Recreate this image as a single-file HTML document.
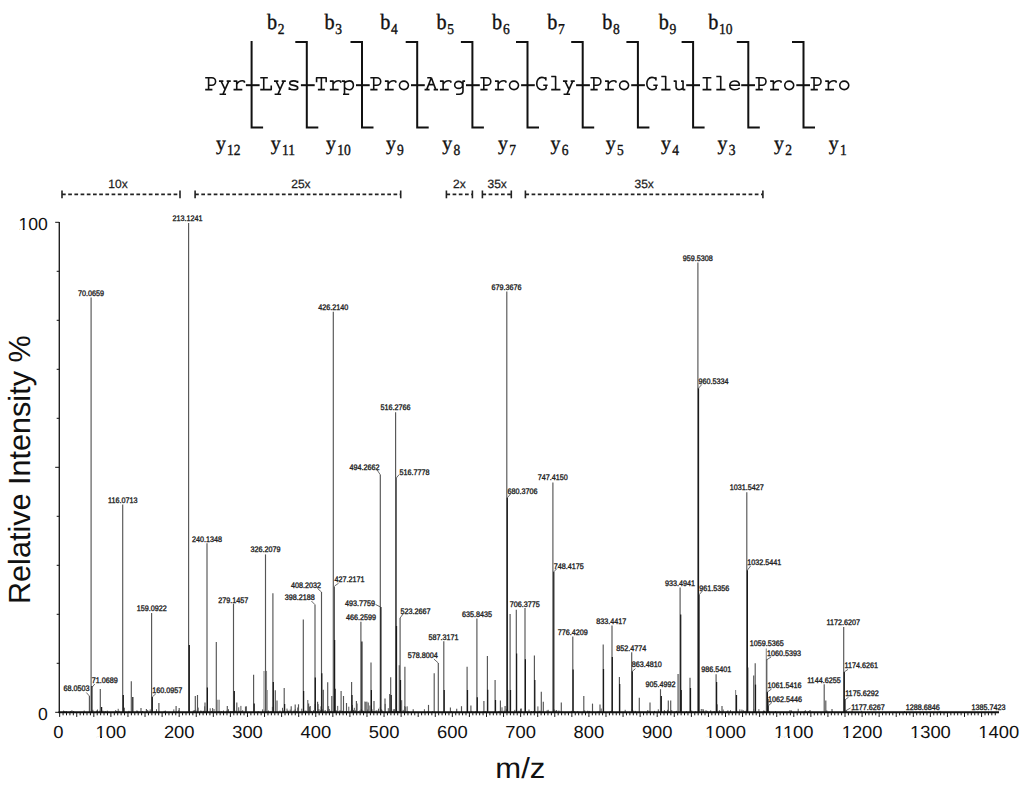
<!DOCTYPE html>
<html><head><meta charset="utf-8"><style>
html,body{margin:0;padding:0;background:#fff;width:1024px;height:791px;overflow:hidden}
body{position:relative;font-family:"Liberation Sans",sans-serif}
</style></head><body>
<svg width="1024" height="791" viewBox="0 0 1024 791" style="position:absolute;left:0;top:0" text-rendering="geometricPrecision">
<g stroke="#444" stroke-width="0.9" shape-rendering="geometricPrecision">
<line x1="63.6" y1="712.3" x2="63.6" y2="710.5"/>
<line x1="64.7" y1="712.3" x2="64.7" y2="711.2"/>
<line x1="66.2" y1="712.3" x2="66.2" y2="711.0"/>
<line x1="70.5" y1="712.3" x2="70.5" y2="711.1"/>
<line x1="71.9" y1="712.3" x2="71.9" y2="710.3"/>
<line x1="73.7" y1="712.3" x2="73.7" y2="711.0"/>
<line x1="84.2" y1="712.3" x2="84.2" y2="710.5"/>
<line x1="92.9" y1="712.3" x2="92.9" y2="709.8"/>
<line x1="96.7" y1="712.3" x2="96.7" y2="710.6"/>
<line x1="97.5" y1="712.3" x2="97.5" y2="709.5"/>
<line x1="99.9" y1="712.3" x2="99.9" y2="710.6"/>
<line x1="102.9" y1="712.3" x2="102.9" y2="710.7"/>
<line x1="105.2" y1="712.3" x2="105.2" y2="711.0"/>
<line x1="107.3" y1="712.3" x2="107.3" y2="710.6"/>
<line x1="115.7" y1="712.3" x2="115.7" y2="710.1"/>
<line x1="116.5" y1="712.3" x2="116.5" y2="711.1"/>
<line x1="117.2" y1="712.3" x2="117.2" y2="711.1"/>
<line x1="118.2" y1="712.3" x2="118.2" y2="708.8"/>
<line x1="119.1" y1="712.3" x2="119.1" y2="710.8"/>
<line x1="122.6" y1="712.3" x2="122.6" y2="711.2"/>
<line x1="124.4" y1="712.3" x2="124.4" y2="707.7"/>
<line x1="128.9" y1="712.3" x2="128.9" y2="710.8"/>
<line x1="136.9" y1="712.3" x2="136.9" y2="710.4"/>
<line x1="137.7" y1="712.3" x2="137.7" y2="710.9"/>
<line x1="142.7" y1="712.3" x2="142.7" y2="711.0"/>
<line x1="147.7" y1="712.3" x2="147.7" y2="710.0"/>
<line x1="150.2" y1="712.3" x2="150.2" y2="709.4"/>
<line x1="155.1" y1="712.3" x2="155.1" y2="711.1"/>
<line x1="156.5" y1="712.3" x2="156.5" y2="709.2"/>
<line x1="159.0" y1="712.3" x2="159.0" y2="711.3"/>
<line x1="164.2" y1="712.3" x2="164.2" y2="710.9"/>
<line x1="165.4" y1="712.3" x2="165.4" y2="710.6"/>
<line x1="173.8" y1="712.3" x2="173.8" y2="709.4"/>
<line x1="178.7" y1="712.3" x2="178.7" y2="710.3"/>
<line x1="193.3" y1="712.3" x2="193.3" y2="710.6"/>
<line x1="194.3" y1="712.3" x2="194.3" y2="710.0"/>
<line x1="195.8" y1="712.3" x2="195.8" y2="709.8"/>
<line x1="198.2" y1="712.3" x2="198.2" y2="707.6"/>
<line x1="200.7" y1="712.3" x2="200.7" y2="710.6"/>
<line x1="201.8" y1="712.3" x2="201.8" y2="710.8"/>
<line x1="203.6" y1="712.3" x2="203.6" y2="710.8"/>
<line x1="204.7" y1="712.3" x2="204.7" y2="706.3"/>
<line x1="206.3" y1="712.3" x2="206.3" y2="710.9"/>
<line x1="207.7" y1="712.3" x2="207.7" y2="711.1"/>
<line x1="210.2" y1="712.3" x2="210.2" y2="708.3"/>
<line x1="211.5" y1="712.3" x2="211.5" y2="711.2"/>
<line x1="212.6" y1="712.3" x2="212.6" y2="708.0"/>
<line x1="214.0" y1="712.3" x2="214.0" y2="709.0"/>
<line x1="218.0" y1="712.3" x2="218.0" y2="711.1"/>
<line x1="218.9" y1="712.3" x2="218.9" y2="711.1"/>
<line x1="219.8" y1="712.3" x2="219.8" y2="710.9"/>
<line x1="221.6" y1="712.3" x2="221.6" y2="711.3"/>
<line x1="223.5" y1="712.3" x2="223.5" y2="710.5"/>
<line x1="226.9" y1="712.3" x2="226.9" y2="710.5"/>
<line x1="228.5" y1="712.3" x2="228.5" y2="709.2"/>
<line x1="230.7" y1="712.3" x2="230.7" y2="711.1"/>
<line x1="232.1" y1="712.3" x2="232.1" y2="711.1"/>
<line x1="234.9" y1="712.3" x2="234.9" y2="711.0"/>
<line x1="236.0" y1="712.3" x2="236.0" y2="710.6"/>
<line x1="238.7" y1="712.3" x2="238.7" y2="707.3"/>
<line x1="239.8" y1="712.3" x2="239.8" y2="710.7"/>
<line x1="240.9" y1="712.3" x2="240.9" y2="705.9"/>
<line x1="241.7" y1="712.3" x2="241.7" y2="711.2"/>
<line x1="242.7" y1="712.3" x2="242.7" y2="710.2"/>
<line x1="246.4" y1="712.3" x2="246.4" y2="706.3"/>
<line x1="258.2" y1="712.3" x2="258.2" y2="711.1"/>
<line x1="262.6" y1="712.3" x2="262.6" y2="709.4"/>
<line x1="265.1" y1="712.3" x2="265.1" y2="709.7"/>
<line x1="265.9" y1="712.3" x2="265.9" y2="709.7"/>
<line x1="268.4" y1="712.3" x2="268.4" y2="710.5"/>
<line x1="271.0" y1="712.3" x2="271.0" y2="711.1"/>
<line x1="272.4" y1="712.3" x2="272.4" y2="706.9"/>
<line x1="280.0" y1="712.3" x2="280.0" y2="710.6"/>
<line x1="282.5" y1="712.3" x2="282.5" y2="707.8"/>
<line x1="283.7" y1="712.3" x2="283.7" y2="710.4"/>
<line x1="287.0" y1="712.3" x2="287.0" y2="708.6"/>
<line x1="287.7" y1="712.3" x2="287.7" y2="710.5"/>
<line x1="288.7" y1="712.3" x2="288.7" y2="710.8"/>
<line x1="290.2" y1="712.3" x2="290.2" y2="709.6"/>
<line x1="293.3" y1="712.3" x2="293.3" y2="710.7"/>
<line x1="294.5" y1="712.3" x2="294.5" y2="710.6"/>
<line x1="295.3" y1="712.3" x2="295.3" y2="709.1"/>
<line x1="296.8" y1="712.3" x2="296.8" y2="710.9"/>
<line x1="297.7" y1="712.3" x2="297.7" y2="707.5"/>
<line x1="301.8" y1="712.3" x2="301.8" y2="708.7"/>
<line x1="303.2" y1="712.3" x2="303.2" y2="711.2"/>
<line x1="304.0" y1="712.3" x2="304.0" y2="710.6"/>
<line x1="305.6" y1="712.3" x2="305.6" y2="710.6"/>
<line x1="306.6" y1="712.3" x2="306.6" y2="710.8"/>
<line x1="307.8" y1="712.3" x2="307.8" y2="700.0"/>
<line x1="308.6" y1="712.3" x2="308.6" y2="710.5"/>
<line x1="309.5" y1="712.3" x2="309.5" y2="706.9"/>
<line x1="310.6" y1="712.3" x2="310.6" y2="710.4"/>
<line x1="311.4" y1="712.3" x2="311.4" y2="711.0"/>
<line x1="313.5" y1="712.3" x2="313.5" y2="710.3"/>
<line x1="315.1" y1="712.3" x2="315.1" y2="704.0"/>
<line x1="316.6" y1="712.3" x2="316.6" y2="711.3"/>
<line x1="318.1" y1="712.3" x2="318.1" y2="704.1"/>
<line x1="318.9" y1="712.3" x2="318.9" y2="709.0"/>
<line x1="320.3" y1="712.3" x2="320.3" y2="710.1"/>
<line x1="321.0" y1="712.3" x2="321.0" y2="706.3"/>
<line x1="322.0" y1="712.3" x2="322.0" y2="709.3"/>
<line x1="322.8" y1="712.3" x2="322.8" y2="709.6"/>
<line x1="323.7" y1="712.3" x2="323.7" y2="710.6"/>
<line x1="325.2" y1="712.3" x2="325.2" y2="710.0"/>
<line x1="327.5" y1="712.3" x2="327.5" y2="709.9"/>
<line x1="328.6" y1="712.3" x2="328.6" y2="706.1"/>
<line x1="329.3" y1="712.3" x2="329.3" y2="709.0"/>
<line x1="330.7" y1="712.3" x2="330.7" y2="710.8"/>
<line x1="331.7" y1="712.3" x2="331.7" y2="710.8"/>
<line x1="333.8" y1="712.3" x2="333.8" y2="710.2"/>
<line x1="335.4" y1="712.3" x2="335.4" y2="710.8"/>
<line x1="336.2" y1="712.3" x2="336.2" y2="710.3"/>
<line x1="337.7" y1="712.3" x2="337.7" y2="705.9"/>
<line x1="339.9" y1="712.3" x2="339.9" y2="710.3"/>
<line x1="340.9" y1="712.3" x2="340.9" y2="710.6"/>
<line x1="342.5" y1="712.3" x2="342.5" y2="710.8"/>
<line x1="343.9" y1="712.3" x2="343.9" y2="711.2"/>
<line x1="345.8" y1="712.3" x2="345.8" y2="711.2"/>
<line x1="347.3" y1="712.3" x2="347.3" y2="711.2"/>
<line x1="348.8" y1="712.3" x2="348.8" y2="706.7"/>
<line x1="351.0" y1="712.3" x2="351.0" y2="710.5"/>
<line x1="351.7" y1="712.3" x2="351.7" y2="709.3"/>
<line x1="352.4" y1="712.3" x2="352.4" y2="705.0"/>
<line x1="353.5" y1="712.3" x2="353.5" y2="709.9"/>
<line x1="354.3" y1="712.3" x2="354.3" y2="707.8"/>
<line x1="355.6" y1="712.3" x2="355.6" y2="710.4"/>
<line x1="356.4" y1="712.3" x2="356.4" y2="710.7"/>
<line x1="357.1" y1="712.3" x2="357.1" y2="703.5"/>
<line x1="358.7" y1="712.3" x2="358.7" y2="711.1"/>
<line x1="360.0" y1="712.3" x2="360.0" y2="710.2"/>
<line x1="361.3" y1="712.3" x2="361.3" y2="709.1"/>
<line x1="362.8" y1="712.3" x2="362.8" y2="710.4"/>
<line x1="363.7" y1="712.3" x2="363.7" y2="711.0"/>
<line x1="364.9" y1="712.3" x2="364.9" y2="701.5"/>
<line x1="365.8" y1="712.3" x2="365.8" y2="701.9"/>
<line x1="366.9" y1="712.3" x2="366.9" y2="701.6"/>
<line x1="367.7" y1="712.3" x2="367.7" y2="709.5"/>
<line x1="369.9" y1="712.3" x2="369.9" y2="705.5"/>
<line x1="371.1" y1="712.3" x2="371.1" y2="710.4"/>
<line x1="372.0" y1="712.3" x2="372.0" y2="709.2"/>
<line x1="372.7" y1="712.3" x2="372.7" y2="710.9"/>
<line x1="373.6" y1="712.3" x2="373.6" y2="711.2"/>
<line x1="374.6" y1="712.3" x2="374.6" y2="711.1"/>
<line x1="375.9" y1="712.3" x2="375.9" y2="710.6"/>
<line x1="376.9" y1="712.3" x2="376.9" y2="710.2"/>
<line x1="378.5" y1="712.3" x2="378.5" y2="708.7"/>
<line x1="380.3" y1="712.3" x2="380.3" y2="707.0"/>
<line x1="381.2" y1="712.3" x2="381.2" y2="709.3"/>
<line x1="381.9" y1="712.3" x2="381.9" y2="709.9"/>
<line x1="382.9" y1="712.3" x2="382.9" y2="711.1"/>
<line x1="385.2" y1="712.3" x2="385.2" y2="703.9"/>
<line x1="388.3" y1="712.3" x2="388.3" y2="708.2"/>
<line x1="389.3" y1="712.3" x2="389.3" y2="710.9"/>
<line x1="390.4" y1="712.3" x2="390.4" y2="711.0"/>
<line x1="392.5" y1="712.3" x2="392.5" y2="711.2"/>
<line x1="393.3" y1="712.3" x2="393.3" y2="709.3"/>
<line x1="394.4" y1="712.3" x2="394.4" y2="709.1"/>
<line x1="395.4" y1="712.3" x2="395.4" y2="710.0"/>
<line x1="396.8" y1="712.3" x2="396.8" y2="710.9"/>
<line x1="397.6" y1="712.3" x2="397.6" y2="711.1"/>
<line x1="398.8" y1="712.3" x2="398.8" y2="711.1"/>
<line x1="400.2" y1="712.3" x2="400.2" y2="709.9"/>
<line x1="401.7" y1="712.3" x2="401.7" y2="700.2"/>
<line x1="403.2" y1="712.3" x2="403.2" y2="709.9"/>
<line x1="404.7" y1="712.3" x2="404.7" y2="706.0"/>
<line x1="405.7" y1="712.3" x2="405.7" y2="706.8"/>
<line x1="407.2" y1="712.3" x2="407.2" y2="706.3"/>
<line x1="408.1" y1="712.3" x2="408.1" y2="711.2"/>
<line x1="424.4" y1="712.3" x2="424.4" y2="709.2"/>
<line x1="427.9" y1="712.3" x2="427.9" y2="711.3"/>
<line x1="432.4" y1="712.3" x2="432.4" y2="711.3"/>
<line x1="438.4" y1="712.3" x2="438.4" y2="711.2"/>
<line x1="451.4" y1="712.3" x2="451.4" y2="711.0"/>
<line x1="461.5" y1="712.3" x2="461.5" y2="711.0"/>
<line x1="471.7" y1="712.3" x2="471.7" y2="710.9"/>
<line x1="476.0" y1="712.3" x2="476.0" y2="711.0"/>
<line x1="483.3" y1="712.3" x2="483.3" y2="711.0"/>
<line x1="484.9" y1="712.3" x2="484.9" y2="711.2"/>
<line x1="485.9" y1="712.3" x2="485.9" y2="711.3"/>
<line x1="494.9" y1="712.3" x2="494.9" y2="711.2"/>
<line x1="498.9" y1="712.3" x2="498.9" y2="711.2"/>
<line x1="500.2" y1="712.3" x2="500.2" y2="710.8"/>
<line x1="501.0" y1="712.3" x2="501.0" y2="710.9"/>
<line x1="502.0" y1="712.3" x2="502.0" y2="707.3"/>
<line x1="504.2" y1="712.3" x2="504.2" y2="710.6"/>
<line x1="506.4" y1="712.3" x2="506.4" y2="708.9"/>
<line x1="507.8" y1="712.3" x2="507.8" y2="711.3"/>
<line x1="514.8" y1="712.3" x2="514.8" y2="709.9"/>
<line x1="519.0" y1="712.3" x2="519.0" y2="710.7"/>
<line x1="520.5" y1="712.3" x2="520.5" y2="708.7"/>
<line x1="521.4" y1="712.3" x2="521.4" y2="708.5"/>
<line x1="526.9" y1="712.3" x2="526.9" y2="711.1"/>
<line x1="529.0" y1="712.3" x2="529.0" y2="709.5"/>
<line x1="531.4" y1="712.3" x2="531.4" y2="711.0"/>
<line x1="533.5" y1="712.3" x2="533.5" y2="711.0"/>
<line x1="534.7" y1="712.3" x2="534.7" y2="710.8"/>
<line x1="537.9" y1="712.3" x2="537.9" y2="706.4"/>
<line x1="539.2" y1="712.3" x2="539.2" y2="711.0"/>
<line x1="540.0" y1="712.3" x2="540.0" y2="710.7"/>
<line x1="547.1" y1="712.3" x2="547.1" y2="710.3"/>
<line x1="548.2" y1="712.3" x2="548.2" y2="709.8"/>
<line x1="554.1" y1="712.3" x2="554.1" y2="709.5"/>
<line x1="555.3" y1="712.3" x2="555.3" y2="710.6"/>
<line x1="556.6" y1="712.3" x2="556.6" y2="710.0"/>
<line x1="558.9" y1="712.3" x2="558.9" y2="710.5"/>
<line x1="571.4" y1="712.3" x2="571.4" y2="710.9"/>
<line x1="574.2" y1="712.3" x2="574.2" y2="711.0"/>
<line x1="577.7" y1="712.3" x2="577.7" y2="711.1"/>
<line x1="584.7" y1="712.3" x2="584.7" y2="710.3"/>
<line x1="587.7" y1="712.3" x2="587.7" y2="710.7"/>
<line x1="588.7" y1="712.3" x2="588.7" y2="711.3"/>
<line x1="589.7" y1="712.3" x2="589.7" y2="710.9"/>
<line x1="598.0" y1="712.3" x2="598.0" y2="711.3"/>
<line x1="599.3" y1="712.3" x2="599.3" y2="711.2"/>
<line x1="601.2" y1="712.3" x2="601.2" y2="708.5"/>
<line x1="610.3" y1="712.3" x2="610.3" y2="711.0"/>
<line x1="611.5" y1="712.3" x2="611.5" y2="710.5"/>
<line x1="619.5" y1="712.3" x2="619.5" y2="710.1"/>
<line x1="625.2" y1="712.3" x2="625.2" y2="709.8"/>
<line x1="631.9" y1="712.3" x2="631.9" y2="709.2"/>
<line x1="633.0" y1="712.3" x2="633.0" y2="710.5"/>
<line x1="635.3" y1="712.3" x2="635.3" y2="710.9"/>
<line x1="639.6" y1="712.3" x2="639.6" y2="711.3"/>
<line x1="647.8" y1="712.3" x2="647.8" y2="710.0"/>
<line x1="649.2" y1="712.3" x2="649.2" y2="711.1"/>
<line x1="654.5" y1="712.3" x2="654.5" y2="710.9"/>
<line x1="658.3" y1="712.3" x2="658.3" y2="709.3"/>
<line x1="664.4" y1="712.3" x2="664.4" y2="710.1"/>
<line x1="665.2" y1="712.3" x2="665.2" y2="711.3"/>
<line x1="667.6" y1="712.3" x2="667.6" y2="709.8"/>
<line x1="669.0" y1="712.3" x2="669.0" y2="711.2"/>
<line x1="671.7" y1="712.3" x2="671.7" y2="710.1"/>
<line x1="675.1" y1="712.3" x2="675.1" y2="711.3"/>
<line x1="676.5" y1="712.3" x2="676.5" y2="710.9"/>
<line x1="678.5" y1="712.3" x2="678.5" y2="710.8"/>
<line x1="686.5" y1="712.3" x2="686.5" y2="711.2"/>
<line x1="691.7" y1="712.3" x2="691.7" y2="710.6"/>
<line x1="695.4" y1="712.3" x2="695.4" y2="711.3"/>
<line x1="701.3" y1="712.3" x2="701.3" y2="709.0"/>
<line x1="703.6" y1="712.3" x2="703.6" y2="710.3"/>
<line x1="706.0" y1="712.3" x2="706.0" y2="710.2"/>
<line x1="707.2" y1="712.3" x2="707.2" y2="710.9"/>
<line x1="710.7" y1="712.3" x2="710.7" y2="710.3"/>
<line x1="714.2" y1="712.3" x2="714.2" y2="711.1"/>
<line x1="717.2" y1="712.3" x2="717.2" y2="704.3"/>
<line x1="719.4" y1="712.3" x2="719.4" y2="710.2"/>
<line x1="720.5" y1="712.3" x2="720.5" y2="711.3"/>
<line x1="723.2" y1="712.3" x2="723.2" y2="709.5"/>
<line x1="727.1" y1="712.3" x2="727.1" y2="711.0"/>
<line x1="727.9" y1="712.3" x2="727.9" y2="710.3"/>
<line x1="730.5" y1="712.3" x2="730.5" y2="710.2"/>
<line x1="736.0" y1="712.3" x2="736.0" y2="707.3"/>
<line x1="736.9" y1="712.3" x2="736.9" y2="710.9"/>
<line x1="739.8" y1="712.3" x2="739.8" y2="709.4"/>
<line x1="741.9" y1="712.3" x2="741.9" y2="709.6"/>
<line x1="743.2" y1="712.3" x2="743.2" y2="710.2"/>
<line x1="744.0" y1="712.3" x2="744.0" y2="710.9"/>
<line x1="745.1" y1="712.3" x2="745.1" y2="711.0"/>
<line x1="746.4" y1="712.3" x2="746.4" y2="709.8"/>
<line x1="753.7" y1="712.3" x2="753.7" y2="709.2"/>
<line x1="755.0" y1="712.3" x2="755.0" y2="711.0"/>
<line x1="758.9" y1="712.3" x2="758.9" y2="709.1"/>
<line x1="763.6" y1="712.3" x2="763.6" y2="710.5"/>
<line x1="764.5" y1="712.3" x2="764.5" y2="710.8"/>
<line x1="766.9" y1="712.3" x2="766.9" y2="708.6"/>
<line x1="768.3" y1="712.3" x2="768.3" y2="698.8"/>
<line x1="769.3" y1="712.3" x2="769.3" y2="711.3"/>
<line x1="775.5" y1="712.3" x2="775.5" y2="711.2"/>
<line x1="791.5" y1="712.3" x2="791.5" y2="710.4"/>
<line x1="798.2" y1="712.3" x2="798.2" y2="708.8"/>
<line x1="804.4" y1="712.3" x2="804.4" y2="711.2"/>
<line x1="805.3" y1="712.3" x2="805.3" y2="710.2"/>
<line x1="808.6" y1="712.3" x2="808.6" y2="711.1"/>
<line x1="826.8" y1="712.3" x2="826.8" y2="710.4"/>
<line x1="832.4" y1="712.3" x2="832.4" y2="711.1"/>
<line x1="852.1" y1="712.3" x2="852.1" y2="710.4"/>
<line x1="861.6" y1="712.3" x2="861.6" y2="710.8"/>
<line x1="904.5" y1="712.3" x2="904.5" y2="711.2"/>
<line x1="939.9" y1="712.3" x2="939.9" y2="710.9"/>
</g>
<g stroke="#888" stroke-width="1.1">
<line x1="217.8" y1="712.3" x2="217.8" y2="699.8"/>
<line x1="219.2" y1="712.3" x2="219.2" y2="699.8"/>
<line x1="264" y1="712.3" x2="264" y2="670.9"/>
<line x1="266.5" y1="712.3" x2="266.5" y2="670.9"/>
<line x1="267.2" y1="712.3" x2="267.2" y2="690"/>
<line x1="677.8" y1="712.3" x2="677.8" y2="673.9"/>
<line x1="678.6" y1="712.3" x2="678.6" y2="673.9"/>
<line x1="735.6" y1="712.3" x2="735.6" y2="690"/>
<line x1="766.3" y1="712.3" x2="766.3" y2="648.4"/>
</g>
<g stroke="#555" stroke-width="1.15">
<line x1="89.4" y1="712.3" x2="89.4" y2="696"/>
<line x1="91.1" y1="712.3" x2="91.1" y2="297.4"/>
<line x1="100.3" y1="712.3" x2="100.3" y2="689"/>
<line x1="122.7" y1="712.3" x2="122.7" y2="504.4"/>
<line x1="131.3" y1="712.3" x2="131.3" y2="681.3"/>
<line x1="141" y1="712.3" x2="141" y2="708"/>
<line x1="146.4" y1="712.3" x2="146.4" y2="709"/>
<line x1="151.6" y1="712.3" x2="151.6" y2="613"/>
<line x1="158.9" y1="712.3" x2="158.9" y2="703"/>
<line x1="176.1" y1="712.3" x2="176.1" y2="706"/>
<line x1="179.2" y1="712.3" x2="179.2" y2="708"/>
<line x1="188.6" y1="712.3" x2="188.6" y2="223"/>
<line x1="195.3" y1="712.3" x2="195.3" y2="696"/>
<line x1="197.5" y1="712.3" x2="197.5" y2="695"/>
<line x1="205" y1="712.3" x2="205" y2="702.4"/>
<line x1="207" y1="712.3" x2="207" y2="543.2"/>
<line x1="216.3" y1="712.3" x2="216.3" y2="642"/>
<line x1="227.3" y1="712.3" x2="227.3" y2="706"/>
<line x1="233.5" y1="712.3" x2="233.5" y2="603.7"/>
<line x1="236.8" y1="712.3" x2="236.8" y2="702.4"/>
<line x1="245.5" y1="712.3" x2="245.5" y2="706.5"/>
<line x1="253.6" y1="712.3" x2="253.6" y2="674.7"/>
<line x1="265.5" y1="712.3" x2="265.5" y2="554.4"/>
<line x1="272.9" y1="712.3" x2="272.9" y2="593.2"/>
<line x1="275.3" y1="712.3" x2="275.3" y2="690.3"/>
<line x1="277" y1="712.3" x2="277" y2="700.5"/>
<line x1="284.2" y1="712.3" x2="284.2" y2="688.1"/>
<line x1="291.2" y1="712.3" x2="291.2" y2="706.2"/>
<line x1="295.2" y1="712.3" x2="295.2" y2="704.6"/>
<line x1="298.5" y1="712.3" x2="298.5" y2="704.3"/>
<line x1="303.3" y1="712.3" x2="303.3" y2="619.5"/>
<line x1="308.6" y1="712.3" x2="308.6" y2="703.4"/>
<line x1="310.2" y1="712.3" x2="310.2" y2="706"/>
<line x1="315" y1="712.3" x2="315" y2="604.7"/>
<line x1="317.6" y1="712.3" x2="317.6" y2="701.7"/>
<line x1="321.5" y1="712.3" x2="321.5" y2="592"/>
<line x1="323.3" y1="712.3" x2="323.3" y2="689.7"/>
<line x1="327.7" y1="712.3" x2="327.7" y2="682.3"/>
<line x1="331.8" y1="712.3" x2="331.8" y2="696"/>
<line x1="333.3" y1="712.3" x2="333.3" y2="311.8"/>
<line x1="334.4" y1="712.3" x2="334.4" y2="586.6"/>
<line x1="341.1" y1="712.3" x2="341.1" y2="691"/>
<line x1="343.5" y1="712.3" x2="343.5" y2="696"/>
<line x1="346.5" y1="712.3" x2="346.5" y2="703"/>
<line x1="351.6" y1="712.3" x2="351.6" y2="682"/>
<line x1="356.4" y1="712.3" x2="356.4" y2="701"/>
<line x1="360.9" y1="712.3" x2="360.9" y2="621.8"/>
<line x1="368.2" y1="712.3" x2="368.2" y2="702.4"/>
<line x1="371" y1="712.3" x2="371" y2="662.4"/>
<line x1="374" y1="712.3" x2="374" y2="701"/>
<line x1="380.3" y1="712.3" x2="380.3" y2="474.8"/>
<line x1="385" y1="712.3" x2="385" y2="698.6"/>
<line x1="389.7" y1="712.3" x2="389.7" y2="694"/>
<line x1="390.7" y1="712.3" x2="390.7" y2="677.2"/>
<line x1="395.6" y1="712.3" x2="395.6" y2="412.2"/>
<line x1="396.3" y1="712.3" x2="396.3" y2="478"/>
<line x1="399.3" y1="712.3" x2="399.3" y2="665.3"/>
<line x1="400.1" y1="712.3" x2="400.1" y2="618"/>
<line x1="404.9" y1="712.3" x2="404.9" y2="666.8"/>
<line x1="413.2" y1="712.3" x2="413.2" y2="709.3"/>
<line x1="428.5" y1="712.3" x2="428.5" y2="704.9"/>
<line x1="434.2" y1="712.3" x2="434.2" y2="673.2"/>
<line x1="438.3" y1="712.3" x2="438.3" y2="663"/>
<line x1="443.8" y1="712.3" x2="443.8" y2="641.2"/>
<line x1="450.4" y1="712.3" x2="450.4" y2="707.4"/>
<line x1="456.7" y1="712.3" x2="456.7" y2="708.7"/>
<line x1="461.5" y1="712.3" x2="461.5" y2="706.2"/>
<line x1="467.1" y1="712.3" x2="467.1" y2="666.8"/>
<line x1="470.9" y1="712.3" x2="470.9" y2="705.5"/>
<line x1="476.9" y1="712.3" x2="476.9" y2="618.5"/>
<line x1="483.9" y1="712.3" x2="483.9" y2="701"/>
<line x1="487.4" y1="712.3" x2="487.4" y2="656"/>
<line x1="495.1" y1="712.3" x2="495.1" y2="680.1"/>
<line x1="500.4" y1="712.3" x2="500.4" y2="700.5"/>
<line x1="505.1" y1="712.3" x2="505.1" y2="706"/>
<line x1="506.8" y1="712.3" x2="506.8" y2="291.4"/>
<line x1="510.1" y1="712.3" x2="510.1" y2="614"/>
<line x1="516.3" y1="712.3" x2="516.3" y2="609.7"/>
<line x1="525" y1="712.3" x2="525" y2="608"/>
<line x1="534.4" y1="712.3" x2="534.4" y2="655.4"/>
<line x1="541.3" y1="712.3" x2="541.3" y2="691.8"/>
<line x1="543.3" y1="712.3" x2="543.3" y2="701.7"/>
<line x1="552.9" y1="712.3" x2="552.9" y2="482.4"/>
<line x1="561.3" y1="712.3" x2="561.3" y2="702.4"/>
<line x1="572.8" y1="712.3" x2="572.8" y2="636.6"/>
<line x1="583.8" y1="712.3" x2="583.8" y2="696"/>
<line x1="592.5" y1="712.3" x2="592.5" y2="703.6"/>
<line x1="600" y1="712.3" x2="600" y2="704.4"/>
<line x1="603.2" y1="712.3" x2="603.2" y2="644.4"/>
<line x1="612" y1="712.3" x2="612" y2="625.5"/>
<line x1="619.4" y1="712.3" x2="619.4" y2="677"/>
<line x1="631.7" y1="712.3" x2="631.7" y2="652.3"/>
<line x1="639.3" y1="712.3" x2="639.3" y2="697.8"/>
<line x1="650" y1="712.3" x2="650" y2="702.4"/>
<line x1="660.5" y1="712.3" x2="660.5" y2="689.2"/>
<line x1="668.3" y1="712.3" x2="668.3" y2="700.4"/>
<line x1="670.7" y1="712.3" x2="670.7" y2="700.4"/>
<line x1="680.1" y1="712.3" x2="680.1" y2="587.6"/>
<line x1="690" y1="712.3" x2="690" y2="677.8"/>
<line x1="697.9" y1="712.3" x2="697.9" y2="262.5"/>
<line x1="703" y1="712.3" x2="703" y2="709"/>
<line x1="716.1" y1="712.3" x2="716.1" y2="674.3"/>
<line x1="722" y1="712.3" x2="722" y2="706"/>
<line x1="746.8" y1="712.3" x2="746.8" y2="492.2"/>
<line x1="753.7" y1="712.3" x2="753.7" y2="675.5"/>
<line x1="755.2" y1="712.3" x2="755.2" y2="663.3"/>
<line x1="766.8" y1="712.3" x2="766.8" y2="659.2"/>
<line x1="790" y1="712.3" x2="790" y2="710"/>
<line x1="810" y1="712.3" x2="810" y2="710"/>
<line x1="824.2" y1="712.3" x2="824.2" y2="684.3"/>
<line x1="825.8" y1="712.3" x2="825.8" y2="700.5"/>
<line x1="832" y1="712.3" x2="832" y2="709"/>
<line x1="843.7" y1="712.3" x2="843.7" y2="627.1"/>
</g>
<g stroke="#1a1a1a" stroke-width="1.25">
<line x1="91.9" y1="712.3" x2="91.9" y2="686"/>
<line x1="101.6" y1="712.3" x2="101.6" y2="707"/>
<line x1="123.3" y1="712.3" x2="123.3" y2="695"/>
<line x1="132.8" y1="712.3" x2="132.8" y2="697"/>
<line x1="152.3" y1="712.3" x2="152.3" y2="697"/>
<line x1="189.3" y1="712.3" x2="189.3" y2="645"/>
<line x1="207.4" y1="712.3" x2="207.4" y2="687.5"/>
<line x1="234.3" y1="712.3" x2="234.3" y2="691"/>
<line x1="254.2" y1="712.3" x2="254.2" y2="703.6"/>
<line x1="273.3" y1="712.3" x2="273.3" y2="682"/>
<line x1="284.6" y1="712.3" x2="284.6" y2="704"/>
<line x1="303.6" y1="712.3" x2="303.6" y2="691"/>
<line x1="315.3" y1="712.3" x2="315.3" y2="677.6"/>
<line x1="321.8" y1="712.3" x2="321.8" y2="673.2"/>
<line x1="334.6" y1="712.3" x2="334.6" y2="640"/>
<line x1="335.1" y1="712.3" x2="335.1" y2="688.7"/>
<line x1="352" y1="712.3" x2="352" y2="695"/>
<line x1="361.9" y1="712.3" x2="361.9" y2="641.4"/>
<line x1="371.4" y1="712.3" x2="371.4" y2="690"/>
<line x1="380.9" y1="712.3" x2="380.9" y2="607"/>
<line x1="391.2" y1="712.3" x2="391.2" y2="695"/>
<line x1="396.5" y1="712.3" x2="396.5" y2="626"/>
<line x1="400.5" y1="712.3" x2="400.5" y2="680"/>
<line x1="444.2" y1="712.3" x2="444.2" y2="690"/>
<line x1="467.5" y1="712.3" x2="467.5" y2="690"/>
<line x1="477.3" y1="712.3" x2="477.3" y2="697.3"/>
<line x1="487.7" y1="712.3" x2="487.7" y2="689.7"/>
<line x1="495.5" y1="712.3" x2="495.5" y2="700"/>
<line x1="507.3" y1="712.3" x2="507.3" y2="497.8"/>
<line x1="507.6" y1="712.3" x2="507.6" y2="690"/>
<line x1="510.5" y1="712.3" x2="510.5" y2="690"/>
<line x1="516.6" y1="712.3" x2="516.6" y2="653.5"/>
<line x1="525.4" y1="712.3" x2="525.4" y2="659.2"/>
<line x1="534.8" y1="712.3" x2="534.8" y2="680"/>
<line x1="553.8" y1="712.3" x2="553.8" y2="571.8"/>
<line x1="573.1" y1="712.3" x2="573.1" y2="669.4"/>
<line x1="603.5" y1="712.3" x2="603.5" y2="669"/>
<line x1="612.3" y1="712.3" x2="612.3" y2="657"/>
<line x1="619.7" y1="712.3" x2="619.7" y2="684"/>
<line x1="632.3" y1="712.3" x2="632.3" y2="671.3"/>
<line x1="661.3" y1="712.3" x2="661.3" y2="696"/>
<line x1="680.7" y1="712.3" x2="680.7" y2="614.6"/>
<line x1="681.2" y1="712.3" x2="681.2" y2="690"/>
<line x1="690.5" y1="712.3" x2="690.5" y2="688"/>
<line x1="698.5" y1="712.3" x2="698.5" y2="388.2"/>
<line x1="699" y1="712.3" x2="699" y2="594.9"/>
<line x1="716.6" y1="712.3" x2="716.6" y2="682"/>
<line x1="736.5" y1="712.3" x2="736.5" y2="695"/>
<line x1="747.4" y1="712.3" x2="747.4" y2="570.2"/>
<line x1="747.7" y1="712.3" x2="747.7" y2="667.5"/>
<line x1="755.5" y1="712.3" x2="755.5" y2="684.6"/>
<line x1="767.4" y1="712.3" x2="767.4" y2="692"/>
<line x1="768" y1="712.3" x2="768" y2="706"/>
<line x1="844.3" y1="712.3" x2="844.3" y2="671.9"/>
<line x1="845" y1="712.3" x2="845" y2="699.8"/>
<line x1="846" y1="712.3" x2="846" y2="710.6"/>
</g>
<g font-family="Liberation Sans, sans-serif" font-size="8" fill="#222" stroke="#222" stroke-width="0.35" text-anchor="middle" text-rendering="geometricPrecision">
<text transform="translate(90.9,295.65) scale(0.9,1)">70.0659</text>
<text transform="translate(187.6,220.65) scale(0.9,1)">213.1241</text>
<text transform="translate(122.8,502.65) scale(0.9,1)">116.0713</text>
<text transform="translate(151.7,610.85) scale(0.9,1)">159.0922</text>
<text transform="translate(207,541.85) scale(0.9,1)">240.1348</text>
<text transform="translate(233.3,602.65) scale(0.9,1)">279.1457</text>
<text transform="translate(265.5,552.35) scale(0.9,1)">326.2079</text>
<text transform="translate(299.7,599.75) scale(0.9,1)">398.2188</text>
<text transform="translate(305.9,587.65) scale(0.9,1)">408.2032</text>
<text transform="translate(333.3,310.05) scale(0.9,1)">426.2140</text>
<text transform="translate(349.5,581.85) scale(0.9,1)">427.2171</text>
<text transform="translate(360.9,620.25) scale(0.9,1)">466.2599</text>
<text transform="translate(360,606.05) scale(0.9,1)">493.7759</text>
<text transform="translate(364.5,470.05) scale(0.9,1)">494.2662</text>
<text transform="translate(395.5,410.45) scale(0.9,1)">516.2766</text>
<text transform="translate(414.5,475.35) scale(0.9,1)">516.7778</text>
<text transform="translate(415.5,613.55) scale(0.9,1)">523.2667</text>
<text transform="translate(422.7,657.65) scale(0.9,1)">578.8004</text>
<text transform="translate(443.4,639.85) scale(0.9,1)">587.3171</text>
<text transform="translate(477,616.85) scale(0.9,1)">635.8435</text>
<text transform="translate(506.6,289.65) scale(0.9,1)">679.3676</text>
<text transform="translate(522.4,494.15) scale(0.9,1)">680.3706</text>
<text transform="translate(524.7,606.65) scale(0.9,1)">706.3775</text>
<text transform="translate(552.7,480.25) scale(0.9,1)">747.4150</text>
<text transform="translate(568.8,568.85) scale(0.9,1)">748.4175</text>
<text transform="translate(572.8,634.55) scale(0.9,1)">776.4209</text>
<text transform="translate(611.3,623.85) scale(0.9,1)">833.4417</text>
<text transform="translate(631.3,650.65) scale(0.9,1)">852.4774</text>
<text transform="translate(646.7,667.05) scale(0.9,1)">863.4810</text>
<text transform="translate(660.4,687.35) scale(0.9,1)">905.4992</text>
<text transform="translate(680,585.55) scale(0.9,1)">933.4941</text>
<text transform="translate(697.8,260.75) scale(0.9,1)">959.5308</text>
<text transform="translate(713.5,384.45) scale(0.9,1)">960.5334</text>
<text transform="translate(714.2,591.15) scale(0.9,1)">961.5356</text>
<text transform="translate(716.2,672.05) scale(0.9,1)">986.5401</text>
<text transform="translate(746.8,490.15) scale(0.9,1)">1031.5427</text>
<text transform="translate(764.2,565.45) scale(0.9,1)">1032.5441</text>
<text transform="translate(766.7,646.15) scale(0.9,1)">1059.5365</text>
<text transform="translate(783.9,655.95) scale(0.9,1)">1060.5393</text>
<text transform="translate(784.5,688.05) scale(0.9,1)">1061.5416</text>
<text transform="translate(785.1,702.05) scale(0.9,1)">1062.5446</text>
<text transform="translate(823.9,682.65) scale(0.9,1)">1144.6255</text>
<text transform="translate(843.3,624.65) scale(0.9,1)">1172.6207</text>
<text transform="translate(861.3,668.05) scale(0.9,1)">1174.6261</text>
<text transform="translate(861.9,695.95) scale(0.9,1)">1175.6292</text>
<text transform="translate(868.1,710.05) scale(0.9,1)">1177.6267</text>
<text transform="translate(922.8,710.05) scale(0.9,1)">1288.6846</text>
<text transform="translate(988.4,710.05) scale(0.9,1)">1385.7423</text>
<text transform="translate(76.4,691.15) scale(0.9,1)">68.0503</text>
<text transform="translate(104.7,682.85) scale(0.9,1)">71.0689</text>
<text transform="translate(167.2,692.65) scale(0.9,1)">160.0957</text>
</g>
<g stroke="#444" stroke-width="0.8" fill="none">
<line x1="311.4" y1="601" x2="315" y2="604.7"/>
<line x1="317.6" y1="588.6" x2="321.5" y2="592"/>
<line x1="334.5" y1="586.1" x2="338.6" y2="583.2"/>
<line x1="375.5" y1="604.5" x2="380.6" y2="607"/>
<line x1="376.5" y1="469" x2="380.3" y2="474.8"/>
<line x1="396.3" y1="478" x2="399.2" y2="474.5"/>
<line x1="400.1" y1="618" x2="403" y2="614"/>
<line x1="433.9" y1="659" x2="438.3" y2="663"/>
<line x1="507.3" y1="497.8" x2="510.5" y2="494"/>
<line x1="553.8" y1="571.8" x2="557" y2="568.5"/>
<line x1="632.3" y1="671.3" x2="635.4" y2="668.7"/>
<line x1="698.5" y1="388.2" x2="701.8" y2="384.5"/>
<line x1="699" y1="594.9" x2="702.4" y2="591"/>
<line x1="747.4" y1="570.2" x2="750.5" y2="566"/>
<line x1="766.7" y1="659.8" x2="771.2" y2="656.9"/>
<line x1="767.2" y1="692.2" x2="771.5" y2="689"/>
<line x1="768" y1="706.2" x2="772" y2="702.4"/>
<line x1="844.3" y1="671.9" x2="848" y2="669.4"/>
<line x1="845" y1="699.8" x2="848.5" y2="697.3"/>
<line x1="846" y1="710.6" x2="850.5" y2="708"/>
<line x1="86.3" y1="692.5" x2="89.4" y2="696"/>
<line x1="91.9" y1="687.5" x2="94.8" y2="684"/>
<line x1="152.3" y1="696.9" x2="155.8" y2="693.8"/>
</g>
<line x1="59.3" y1="222" x2="59.3" y2="713.0999999999999" stroke="#222" stroke-width="1.4"/>
<line x1="58.5" y1="712.3" x2="999" y2="712.3" stroke="#111" stroke-width="2"/>
<line x1="55.2" y1="712.3" x2="59.2" y2="712.3" stroke="#111" stroke-width="1"/>
<line x1="56.7" y1="663.3" x2="59.2" y2="663.3" stroke="#111" stroke-width="1"/>
<line x1="56.7" y1="614.3" x2="59.2" y2="614.3" stroke="#111" stroke-width="1"/>
<line x1="56.7" y1="565.3" x2="59.2" y2="565.3" stroke="#111" stroke-width="1"/>
<line x1="56.7" y1="516.3" x2="59.2" y2="516.3" stroke="#111" stroke-width="1"/>
<line x1="55.2" y1="467.29999999999995" x2="59.2" y2="467.29999999999995" stroke="#111" stroke-width="1"/>
<line x1="56.7" y1="418.29999999999995" x2="59.2" y2="418.29999999999995" stroke="#111" stroke-width="1"/>
<line x1="56.7" y1="369.29999999999995" x2="59.2" y2="369.29999999999995" stroke="#111" stroke-width="1"/>
<line x1="56.7" y1="320.29999999999995" x2="59.2" y2="320.29999999999995" stroke="#111" stroke-width="1"/>
<line x1="56.7" y1="271.29999999999995" x2="59.2" y2="271.29999999999995" stroke="#111" stroke-width="1"/>
<line x1="55.2" y1="222.29999999999995" x2="59.2" y2="222.29999999999995" stroke="#111" stroke-width="1"/>
<line x1="59.67" y1="712.3" x2="59.67" y2="716.9" stroke="#111" stroke-width="1"/>
<line x1="63.09" y1="712.3" x2="63.09" y2="715.3" stroke="#111" stroke-width="1"/>
<line x1="66.50" y1="712.3" x2="66.50" y2="715.3" stroke="#111" stroke-width="1"/>
<line x1="69.92" y1="712.3" x2="69.92" y2="715.3" stroke="#111" stroke-width="1"/>
<line x1="73.33" y1="712.3" x2="73.33" y2="715.3" stroke="#111" stroke-width="1"/>
<line x1="76.74" y1="712.3" x2="76.74" y2="716.9" stroke="#111" stroke-width="1"/>
<line x1="80.16" y1="712.3" x2="80.16" y2="715.3" stroke="#111" stroke-width="1"/>
<line x1="83.57" y1="712.3" x2="83.57" y2="715.3" stroke="#111" stroke-width="1"/>
<line x1="86.99" y1="712.3" x2="86.99" y2="715.3" stroke="#111" stroke-width="1"/>
<line x1="90.40" y1="712.3" x2="90.40" y2="715.3" stroke="#111" stroke-width="1"/>
<line x1="93.82" y1="712.3" x2="93.82" y2="716.9" stroke="#111" stroke-width="1"/>
<line x1="97.23" y1="712.3" x2="97.23" y2="715.3" stroke="#111" stroke-width="1"/>
<line x1="100.65" y1="712.3" x2="100.65" y2="715.3" stroke="#111" stroke-width="1"/>
<line x1="104.06" y1="712.3" x2="104.06" y2="715.3" stroke="#111" stroke-width="1"/>
<line x1="107.48" y1="712.3" x2="107.48" y2="715.3" stroke="#111" stroke-width="1"/>
<line x1="110.89" y1="712.3" x2="110.89" y2="716.9" stroke="#111" stroke-width="1"/>
<line x1="114.30" y1="712.3" x2="114.30" y2="715.3" stroke="#111" stroke-width="1"/>
<line x1="117.72" y1="712.3" x2="117.72" y2="715.3" stroke="#111" stroke-width="1"/>
<line x1="121.13" y1="712.3" x2="121.13" y2="715.3" stroke="#111" stroke-width="1"/>
<line x1="124.55" y1="712.3" x2="124.55" y2="715.3" stroke="#111" stroke-width="1"/>
<line x1="127.96" y1="712.3" x2="127.96" y2="716.9" stroke="#111" stroke-width="1"/>
<line x1="131.38" y1="712.3" x2="131.38" y2="715.3" stroke="#111" stroke-width="1"/>
<line x1="134.79" y1="712.3" x2="134.79" y2="715.3" stroke="#111" stroke-width="1"/>
<line x1="138.21" y1="712.3" x2="138.21" y2="715.3" stroke="#111" stroke-width="1"/>
<line x1="141.62" y1="712.3" x2="141.62" y2="715.3" stroke="#111" stroke-width="1"/>
<line x1="145.03" y1="712.3" x2="145.03" y2="716.9" stroke="#111" stroke-width="1"/>
<line x1="148.45" y1="712.3" x2="148.45" y2="715.3" stroke="#111" stroke-width="1"/>
<line x1="151.86" y1="712.3" x2="151.86" y2="715.3" stroke="#111" stroke-width="1"/>
<line x1="155.28" y1="712.3" x2="155.28" y2="715.3" stroke="#111" stroke-width="1"/>
<line x1="158.69" y1="712.3" x2="158.69" y2="715.3" stroke="#111" stroke-width="1"/>
<line x1="162.11" y1="712.3" x2="162.11" y2="716.9" stroke="#111" stroke-width="1"/>
<line x1="165.52" y1="712.3" x2="165.52" y2="715.3" stroke="#111" stroke-width="1"/>
<line x1="168.94" y1="712.3" x2="168.94" y2="715.3" stroke="#111" stroke-width="1"/>
<line x1="172.35" y1="712.3" x2="172.35" y2="715.3" stroke="#111" stroke-width="1"/>
<line x1="175.77" y1="712.3" x2="175.77" y2="715.3" stroke="#111" stroke-width="1"/>
<line x1="179.18" y1="712.3" x2="179.18" y2="716.9" stroke="#111" stroke-width="1"/>
<line x1="182.59" y1="712.3" x2="182.59" y2="715.3" stroke="#111" stroke-width="1"/>
<line x1="186.01" y1="712.3" x2="186.01" y2="715.3" stroke="#111" stroke-width="1"/>
<line x1="189.42" y1="712.3" x2="189.42" y2="715.3" stroke="#111" stroke-width="1"/>
<line x1="192.84" y1="712.3" x2="192.84" y2="715.3" stroke="#111" stroke-width="1"/>
<line x1="196.25" y1="712.3" x2="196.25" y2="716.9" stroke="#111" stroke-width="1"/>
<line x1="199.67" y1="712.3" x2="199.67" y2="715.3" stroke="#111" stroke-width="1"/>
<line x1="203.08" y1="712.3" x2="203.08" y2="715.3" stroke="#111" stroke-width="1"/>
<line x1="206.50" y1="712.3" x2="206.50" y2="715.3" stroke="#111" stroke-width="1"/>
<line x1="209.91" y1="712.3" x2="209.91" y2="715.3" stroke="#111" stroke-width="1"/>
<line x1="213.32" y1="712.3" x2="213.32" y2="716.9" stroke="#111" stroke-width="1"/>
<line x1="216.74" y1="712.3" x2="216.74" y2="715.3" stroke="#111" stroke-width="1"/>
<line x1="220.15" y1="712.3" x2="220.15" y2="715.3" stroke="#111" stroke-width="1"/>
<line x1="223.57" y1="712.3" x2="223.57" y2="715.3" stroke="#111" stroke-width="1"/>
<line x1="226.98" y1="712.3" x2="226.98" y2="715.3" stroke="#111" stroke-width="1"/>
<line x1="230.40" y1="712.3" x2="230.40" y2="716.9" stroke="#111" stroke-width="1"/>
<line x1="233.81" y1="712.3" x2="233.81" y2="715.3" stroke="#111" stroke-width="1"/>
<line x1="237.23" y1="712.3" x2="237.23" y2="715.3" stroke="#111" stroke-width="1"/>
<line x1="240.64" y1="712.3" x2="240.64" y2="715.3" stroke="#111" stroke-width="1"/>
<line x1="244.06" y1="712.3" x2="244.06" y2="715.3" stroke="#111" stroke-width="1"/>
<line x1="247.47" y1="712.3" x2="247.47" y2="716.9" stroke="#111" stroke-width="1"/>
<line x1="250.88" y1="712.3" x2="250.88" y2="715.3" stroke="#111" stroke-width="1"/>
<line x1="254.30" y1="712.3" x2="254.30" y2="715.3" stroke="#111" stroke-width="1"/>
<line x1="257.71" y1="712.3" x2="257.71" y2="715.3" stroke="#111" stroke-width="1"/>
<line x1="261.13" y1="712.3" x2="261.13" y2="715.3" stroke="#111" stroke-width="1"/>
<line x1="264.54" y1="712.3" x2="264.54" y2="716.9" stroke="#111" stroke-width="1"/>
<line x1="267.96" y1="712.3" x2="267.96" y2="715.3" stroke="#111" stroke-width="1"/>
<line x1="271.37" y1="712.3" x2="271.37" y2="715.3" stroke="#111" stroke-width="1"/>
<line x1="274.79" y1="712.3" x2="274.79" y2="715.3" stroke="#111" stroke-width="1"/>
<line x1="278.20" y1="712.3" x2="278.20" y2="715.3" stroke="#111" stroke-width="1"/>
<line x1="281.62" y1="712.3" x2="281.62" y2="716.9" stroke="#111" stroke-width="1"/>
<line x1="285.03" y1="712.3" x2="285.03" y2="715.3" stroke="#111" stroke-width="1"/>
<line x1="288.44" y1="712.3" x2="288.44" y2="715.3" stroke="#111" stroke-width="1"/>
<line x1="291.86" y1="712.3" x2="291.86" y2="715.3" stroke="#111" stroke-width="1"/>
<line x1="295.27" y1="712.3" x2="295.27" y2="715.3" stroke="#111" stroke-width="1"/>
<line x1="298.69" y1="712.3" x2="298.69" y2="716.9" stroke="#111" stroke-width="1"/>
<line x1="302.10" y1="712.3" x2="302.10" y2="715.3" stroke="#111" stroke-width="1"/>
<line x1="305.52" y1="712.3" x2="305.52" y2="715.3" stroke="#111" stroke-width="1"/>
<line x1="308.93" y1="712.3" x2="308.93" y2="715.3" stroke="#111" stroke-width="1"/>
<line x1="312.35" y1="712.3" x2="312.35" y2="715.3" stroke="#111" stroke-width="1"/>
<line x1="315.76" y1="712.3" x2="315.76" y2="716.9" stroke="#111" stroke-width="1"/>
<line x1="319.17" y1="712.3" x2="319.17" y2="715.3" stroke="#111" stroke-width="1"/>
<line x1="322.59" y1="712.3" x2="322.59" y2="715.3" stroke="#111" stroke-width="1"/>
<line x1="326.00" y1="712.3" x2="326.00" y2="715.3" stroke="#111" stroke-width="1"/>
<line x1="329.42" y1="712.3" x2="329.42" y2="715.3" stroke="#111" stroke-width="1"/>
<line x1="332.83" y1="712.3" x2="332.83" y2="716.9" stroke="#111" stroke-width="1"/>
<line x1="336.25" y1="712.3" x2="336.25" y2="715.3" stroke="#111" stroke-width="1"/>
<line x1="339.66" y1="712.3" x2="339.66" y2="715.3" stroke="#111" stroke-width="1"/>
<line x1="343.08" y1="712.3" x2="343.08" y2="715.3" stroke="#111" stroke-width="1"/>
<line x1="346.49" y1="712.3" x2="346.49" y2="715.3" stroke="#111" stroke-width="1"/>
<line x1="349.90" y1="712.3" x2="349.90" y2="716.9" stroke="#111" stroke-width="1"/>
<line x1="353.32" y1="712.3" x2="353.32" y2="715.3" stroke="#111" stroke-width="1"/>
<line x1="356.73" y1="712.3" x2="356.73" y2="715.3" stroke="#111" stroke-width="1"/>
<line x1="360.15" y1="712.3" x2="360.15" y2="715.3" stroke="#111" stroke-width="1"/>
<line x1="363.56" y1="712.3" x2="363.56" y2="715.3" stroke="#111" stroke-width="1"/>
<line x1="366.98" y1="712.3" x2="366.98" y2="716.9" stroke="#111" stroke-width="1"/>
<line x1="370.39" y1="712.3" x2="370.39" y2="715.3" stroke="#111" stroke-width="1"/>
<line x1="373.81" y1="712.3" x2="373.81" y2="715.3" stroke="#111" stroke-width="1"/>
<line x1="377.22" y1="712.3" x2="377.22" y2="715.3" stroke="#111" stroke-width="1"/>
<line x1="380.64" y1="712.3" x2="380.64" y2="715.3" stroke="#111" stroke-width="1"/>
<line x1="384.05" y1="712.3" x2="384.05" y2="716.9" stroke="#111" stroke-width="1"/>
<line x1="387.46" y1="712.3" x2="387.46" y2="715.3" stroke="#111" stroke-width="1"/>
<line x1="390.88" y1="712.3" x2="390.88" y2="715.3" stroke="#111" stroke-width="1"/>
<line x1="394.29" y1="712.3" x2="394.29" y2="715.3" stroke="#111" stroke-width="1"/>
<line x1="397.71" y1="712.3" x2="397.71" y2="715.3" stroke="#111" stroke-width="1"/>
<line x1="401.12" y1="712.3" x2="401.12" y2="716.9" stroke="#111" stroke-width="1"/>
<line x1="404.54" y1="712.3" x2="404.54" y2="715.3" stroke="#111" stroke-width="1"/>
<line x1="407.95" y1="712.3" x2="407.95" y2="715.3" stroke="#111" stroke-width="1"/>
<line x1="411.37" y1="712.3" x2="411.37" y2="715.3" stroke="#111" stroke-width="1"/>
<line x1="414.78" y1="712.3" x2="414.78" y2="715.3" stroke="#111" stroke-width="1"/>
<line x1="418.19" y1="712.3" x2="418.19" y2="716.9" stroke="#111" stroke-width="1"/>
<line x1="421.61" y1="712.3" x2="421.61" y2="715.3" stroke="#111" stroke-width="1"/>
<line x1="425.02" y1="712.3" x2="425.02" y2="715.3" stroke="#111" stroke-width="1"/>
<line x1="428.44" y1="712.3" x2="428.44" y2="715.3" stroke="#111" stroke-width="1"/>
<line x1="431.85" y1="712.3" x2="431.85" y2="715.3" stroke="#111" stroke-width="1"/>
<line x1="435.27" y1="712.3" x2="435.27" y2="716.9" stroke="#111" stroke-width="1"/>
<line x1="438.68" y1="712.3" x2="438.68" y2="715.3" stroke="#111" stroke-width="1"/>
<line x1="442.10" y1="712.3" x2="442.10" y2="715.3" stroke="#111" stroke-width="1"/>
<line x1="445.51" y1="712.3" x2="445.51" y2="715.3" stroke="#111" stroke-width="1"/>
<line x1="448.93" y1="712.3" x2="448.93" y2="715.3" stroke="#111" stroke-width="1"/>
<line x1="452.34" y1="712.3" x2="452.34" y2="716.9" stroke="#111" stroke-width="1"/>
<line x1="455.75" y1="712.3" x2="455.75" y2="715.3" stroke="#111" stroke-width="1"/>
<line x1="459.17" y1="712.3" x2="459.17" y2="715.3" stroke="#111" stroke-width="1"/>
<line x1="462.58" y1="712.3" x2="462.58" y2="715.3" stroke="#111" stroke-width="1"/>
<line x1="466.00" y1="712.3" x2="466.00" y2="715.3" stroke="#111" stroke-width="1"/>
<line x1="469.41" y1="712.3" x2="469.41" y2="716.9" stroke="#111" stroke-width="1"/>
<line x1="472.83" y1="712.3" x2="472.83" y2="715.3" stroke="#111" stroke-width="1"/>
<line x1="476.24" y1="712.3" x2="476.24" y2="715.3" stroke="#111" stroke-width="1"/>
<line x1="479.66" y1="712.3" x2="479.66" y2="715.3" stroke="#111" stroke-width="1"/>
<line x1="483.07" y1="712.3" x2="483.07" y2="715.3" stroke="#111" stroke-width="1"/>
<line x1="486.49" y1="712.3" x2="486.49" y2="716.9" stroke="#111" stroke-width="1"/>
<line x1="489.90" y1="712.3" x2="489.90" y2="715.3" stroke="#111" stroke-width="1"/>
<line x1="493.31" y1="712.3" x2="493.31" y2="715.3" stroke="#111" stroke-width="1"/>
<line x1="496.73" y1="712.3" x2="496.73" y2="715.3" stroke="#111" stroke-width="1"/>
<line x1="500.14" y1="712.3" x2="500.14" y2="715.3" stroke="#111" stroke-width="1"/>
<line x1="503.56" y1="712.3" x2="503.56" y2="716.9" stroke="#111" stroke-width="1"/>
<line x1="506.97" y1="712.3" x2="506.97" y2="715.3" stroke="#111" stroke-width="1"/>
<line x1="510.39" y1="712.3" x2="510.39" y2="715.3" stroke="#111" stroke-width="1"/>
<line x1="513.80" y1="712.3" x2="513.80" y2="715.3" stroke="#111" stroke-width="1"/>
<line x1="517.22" y1="712.3" x2="517.22" y2="715.3" stroke="#111" stroke-width="1"/>
<line x1="520.63" y1="712.3" x2="520.63" y2="716.9" stroke="#111" stroke-width="1"/>
<line x1="524.04" y1="712.3" x2="524.04" y2="715.3" stroke="#111" stroke-width="1"/>
<line x1="527.46" y1="712.3" x2="527.46" y2="715.3" stroke="#111" stroke-width="1"/>
<line x1="530.87" y1="712.3" x2="530.87" y2="715.3" stroke="#111" stroke-width="1"/>
<line x1="534.29" y1="712.3" x2="534.29" y2="715.3" stroke="#111" stroke-width="1"/>
<line x1="537.70" y1="712.3" x2="537.70" y2="716.9" stroke="#111" stroke-width="1"/>
<line x1="541.12" y1="712.3" x2="541.12" y2="715.3" stroke="#111" stroke-width="1"/>
<line x1="544.53" y1="712.3" x2="544.53" y2="715.3" stroke="#111" stroke-width="1"/>
<line x1="547.95" y1="712.3" x2="547.95" y2="715.3" stroke="#111" stroke-width="1"/>
<line x1="551.36" y1="712.3" x2="551.36" y2="715.3" stroke="#111" stroke-width="1"/>
<line x1="554.77" y1="712.3" x2="554.77" y2="716.9" stroke="#111" stroke-width="1"/>
<line x1="558.19" y1="712.3" x2="558.19" y2="715.3" stroke="#111" stroke-width="1"/>
<line x1="561.60" y1="712.3" x2="561.60" y2="715.3" stroke="#111" stroke-width="1"/>
<line x1="565.02" y1="712.3" x2="565.02" y2="715.3" stroke="#111" stroke-width="1"/>
<line x1="568.43" y1="712.3" x2="568.43" y2="715.3" stroke="#111" stroke-width="1"/>
<line x1="571.85" y1="712.3" x2="571.85" y2="716.9" stroke="#111" stroke-width="1"/>
<line x1="575.26" y1="712.3" x2="575.26" y2="715.3" stroke="#111" stroke-width="1"/>
<line x1="578.68" y1="712.3" x2="578.68" y2="715.3" stroke="#111" stroke-width="1"/>
<line x1="582.09" y1="712.3" x2="582.09" y2="715.3" stroke="#111" stroke-width="1"/>
<line x1="585.51" y1="712.3" x2="585.51" y2="715.3" stroke="#111" stroke-width="1"/>
<line x1="588.92" y1="712.3" x2="588.92" y2="716.9" stroke="#111" stroke-width="1"/>
<line x1="592.33" y1="712.3" x2="592.33" y2="715.3" stroke="#111" stroke-width="1"/>
<line x1="595.75" y1="712.3" x2="595.75" y2="715.3" stroke="#111" stroke-width="1"/>
<line x1="599.16" y1="712.3" x2="599.16" y2="715.3" stroke="#111" stroke-width="1"/>
<line x1="602.58" y1="712.3" x2="602.58" y2="715.3" stroke="#111" stroke-width="1"/>
<line x1="605.99" y1="712.3" x2="605.99" y2="716.9" stroke="#111" stroke-width="1"/>
<line x1="609.41" y1="712.3" x2="609.41" y2="715.3" stroke="#111" stroke-width="1"/>
<line x1="612.82" y1="712.3" x2="612.82" y2="715.3" stroke="#111" stroke-width="1"/>
<line x1="616.24" y1="712.3" x2="616.24" y2="715.3" stroke="#111" stroke-width="1"/>
<line x1="619.65" y1="712.3" x2="619.65" y2="715.3" stroke="#111" stroke-width="1"/>
<line x1="623.06" y1="712.3" x2="623.06" y2="716.9" stroke="#111" stroke-width="1"/>
<line x1="626.48" y1="712.3" x2="626.48" y2="715.3" stroke="#111" stroke-width="1"/>
<line x1="629.89" y1="712.3" x2="629.89" y2="715.3" stroke="#111" stroke-width="1"/>
<line x1="633.31" y1="712.3" x2="633.31" y2="715.3" stroke="#111" stroke-width="1"/>
<line x1="636.72" y1="712.3" x2="636.72" y2="715.3" stroke="#111" stroke-width="1"/>
<line x1="640.14" y1="712.3" x2="640.14" y2="716.9" stroke="#111" stroke-width="1"/>
<line x1="643.55" y1="712.3" x2="643.55" y2="715.3" stroke="#111" stroke-width="1"/>
<line x1="646.97" y1="712.3" x2="646.97" y2="715.3" stroke="#111" stroke-width="1"/>
<line x1="650.38" y1="712.3" x2="650.38" y2="715.3" stroke="#111" stroke-width="1"/>
<line x1="653.80" y1="712.3" x2="653.80" y2="715.3" stroke="#111" stroke-width="1"/>
<line x1="657.21" y1="712.3" x2="657.21" y2="716.9" stroke="#111" stroke-width="1"/>
<line x1="660.62" y1="712.3" x2="660.62" y2="715.3" stroke="#111" stroke-width="1"/>
<line x1="664.04" y1="712.3" x2="664.04" y2="715.3" stroke="#111" stroke-width="1"/>
<line x1="667.45" y1="712.3" x2="667.45" y2="715.3" stroke="#111" stroke-width="1"/>
<line x1="670.87" y1="712.3" x2="670.87" y2="715.3" stroke="#111" stroke-width="1"/>
<line x1="674.28" y1="712.3" x2="674.28" y2="716.9" stroke="#111" stroke-width="1"/>
<line x1="677.70" y1="712.3" x2="677.70" y2="715.3" stroke="#111" stroke-width="1"/>
<line x1="681.11" y1="712.3" x2="681.11" y2="715.3" stroke="#111" stroke-width="1"/>
<line x1="684.53" y1="712.3" x2="684.53" y2="715.3" stroke="#111" stroke-width="1"/>
<line x1="687.94" y1="712.3" x2="687.94" y2="715.3" stroke="#111" stroke-width="1"/>
<line x1="691.36" y1="712.3" x2="691.36" y2="716.9" stroke="#111" stroke-width="1"/>
<line x1="694.77" y1="712.3" x2="694.77" y2="715.3" stroke="#111" stroke-width="1"/>
<line x1="698.18" y1="712.3" x2="698.18" y2="715.3" stroke="#111" stroke-width="1"/>
<line x1="701.60" y1="712.3" x2="701.60" y2="715.3" stroke="#111" stroke-width="1"/>
<line x1="705.01" y1="712.3" x2="705.01" y2="715.3" stroke="#111" stroke-width="1"/>
<line x1="708.43" y1="712.3" x2="708.43" y2="716.9" stroke="#111" stroke-width="1"/>
<line x1="711.84" y1="712.3" x2="711.84" y2="715.3" stroke="#111" stroke-width="1"/>
<line x1="715.26" y1="712.3" x2="715.26" y2="715.3" stroke="#111" stroke-width="1"/>
<line x1="718.67" y1="712.3" x2="718.67" y2="715.3" stroke="#111" stroke-width="1"/>
<line x1="722.09" y1="712.3" x2="722.09" y2="715.3" stroke="#111" stroke-width="1"/>
<line x1="725.50" y1="712.3" x2="725.50" y2="716.9" stroke="#111" stroke-width="1"/>
<line x1="728.91" y1="712.3" x2="728.91" y2="715.3" stroke="#111" stroke-width="1"/>
<line x1="732.33" y1="712.3" x2="732.33" y2="715.3" stroke="#111" stroke-width="1"/>
<line x1="735.74" y1="712.3" x2="735.74" y2="715.3" stroke="#111" stroke-width="1"/>
<line x1="739.16" y1="712.3" x2="739.16" y2="715.3" stroke="#111" stroke-width="1"/>
<line x1="742.57" y1="712.3" x2="742.57" y2="716.9" stroke="#111" stroke-width="1"/>
<line x1="745.99" y1="712.3" x2="745.99" y2="715.3" stroke="#111" stroke-width="1"/>
<line x1="749.40" y1="712.3" x2="749.40" y2="715.3" stroke="#111" stroke-width="1"/>
<line x1="752.82" y1="712.3" x2="752.82" y2="715.3" stroke="#111" stroke-width="1"/>
<line x1="756.23" y1="712.3" x2="756.23" y2="715.3" stroke="#111" stroke-width="1"/>
<line x1="759.64" y1="712.3" x2="759.64" y2="716.9" stroke="#111" stroke-width="1"/>
<line x1="763.06" y1="712.3" x2="763.06" y2="715.3" stroke="#111" stroke-width="1"/>
<line x1="766.47" y1="712.3" x2="766.47" y2="715.3" stroke="#111" stroke-width="1"/>
<line x1="769.89" y1="712.3" x2="769.89" y2="715.3" stroke="#111" stroke-width="1"/>
<line x1="773.30" y1="712.3" x2="773.30" y2="715.3" stroke="#111" stroke-width="1"/>
<line x1="776.72" y1="712.3" x2="776.72" y2="716.9" stroke="#111" stroke-width="1"/>
<line x1="780.13" y1="712.3" x2="780.13" y2="715.3" stroke="#111" stroke-width="1"/>
<line x1="783.55" y1="712.3" x2="783.55" y2="715.3" stroke="#111" stroke-width="1"/>
<line x1="786.96" y1="712.3" x2="786.96" y2="715.3" stroke="#111" stroke-width="1"/>
<line x1="790.38" y1="712.3" x2="790.38" y2="715.3" stroke="#111" stroke-width="1"/>
<line x1="793.79" y1="712.3" x2="793.79" y2="716.9" stroke="#111" stroke-width="1"/>
<line x1="797.20" y1="712.3" x2="797.20" y2="715.3" stroke="#111" stroke-width="1"/>
<line x1="800.62" y1="712.3" x2="800.62" y2="715.3" stroke="#111" stroke-width="1"/>
<line x1="804.03" y1="712.3" x2="804.03" y2="715.3" stroke="#111" stroke-width="1"/>
<line x1="807.45" y1="712.3" x2="807.45" y2="715.3" stroke="#111" stroke-width="1"/>
<line x1="810.86" y1="712.3" x2="810.86" y2="716.9" stroke="#111" stroke-width="1"/>
<line x1="814.28" y1="712.3" x2="814.28" y2="715.3" stroke="#111" stroke-width="1"/>
<line x1="817.69" y1="712.3" x2="817.69" y2="715.3" stroke="#111" stroke-width="1"/>
<line x1="821.11" y1="712.3" x2="821.11" y2="715.3" stroke="#111" stroke-width="1"/>
<line x1="824.52" y1="712.3" x2="824.52" y2="715.3" stroke="#111" stroke-width="1"/>
<line x1="827.93" y1="712.3" x2="827.93" y2="716.9" stroke="#111" stroke-width="1"/>
<line x1="831.35" y1="712.3" x2="831.35" y2="715.3" stroke="#111" stroke-width="1"/>
<line x1="834.76" y1="712.3" x2="834.76" y2="715.3" stroke="#111" stroke-width="1"/>
<line x1="838.18" y1="712.3" x2="838.18" y2="715.3" stroke="#111" stroke-width="1"/>
<line x1="841.59" y1="712.3" x2="841.59" y2="715.3" stroke="#111" stroke-width="1"/>
<line x1="845.01" y1="712.3" x2="845.01" y2="716.9" stroke="#111" stroke-width="1"/>
<line x1="848.42" y1="712.3" x2="848.42" y2="715.3" stroke="#111" stroke-width="1"/>
<line x1="851.84" y1="712.3" x2="851.84" y2="715.3" stroke="#111" stroke-width="1"/>
<line x1="855.25" y1="712.3" x2="855.25" y2="715.3" stroke="#111" stroke-width="1"/>
<line x1="858.67" y1="712.3" x2="858.67" y2="715.3" stroke="#111" stroke-width="1"/>
<line x1="862.08" y1="712.3" x2="862.08" y2="716.9" stroke="#111" stroke-width="1"/>
<line x1="865.49" y1="712.3" x2="865.49" y2="715.3" stroke="#111" stroke-width="1"/>
<line x1="868.91" y1="712.3" x2="868.91" y2="715.3" stroke="#111" stroke-width="1"/>
<line x1="872.32" y1="712.3" x2="872.32" y2="715.3" stroke="#111" stroke-width="1"/>
<line x1="875.74" y1="712.3" x2="875.74" y2="715.3" stroke="#111" stroke-width="1"/>
<line x1="879.15" y1="712.3" x2="879.15" y2="716.9" stroke="#111" stroke-width="1"/>
<line x1="882.57" y1="712.3" x2="882.57" y2="715.3" stroke="#111" stroke-width="1"/>
<line x1="885.98" y1="712.3" x2="885.98" y2="715.3" stroke="#111" stroke-width="1"/>
<line x1="889.40" y1="712.3" x2="889.40" y2="715.3" stroke="#111" stroke-width="1"/>
<line x1="892.81" y1="712.3" x2="892.81" y2="715.3" stroke="#111" stroke-width="1"/>
<line x1="896.22" y1="712.3" x2="896.22" y2="716.9" stroke="#111" stroke-width="1"/>
<line x1="899.64" y1="712.3" x2="899.64" y2="715.3" stroke="#111" stroke-width="1"/>
<line x1="903.05" y1="712.3" x2="903.05" y2="715.3" stroke="#111" stroke-width="1"/>
<line x1="906.47" y1="712.3" x2="906.47" y2="715.3" stroke="#111" stroke-width="1"/>
<line x1="909.88" y1="712.3" x2="909.88" y2="715.3" stroke="#111" stroke-width="1"/>
<line x1="913.30" y1="712.3" x2="913.30" y2="716.9" stroke="#111" stroke-width="1"/>
<line x1="916.71" y1="712.3" x2="916.71" y2="715.3" stroke="#111" stroke-width="1"/>
<line x1="920.13" y1="712.3" x2="920.13" y2="715.3" stroke="#111" stroke-width="1"/>
<line x1="923.54" y1="712.3" x2="923.54" y2="715.3" stroke="#111" stroke-width="1"/>
<line x1="926.96" y1="712.3" x2="926.96" y2="715.3" stroke="#111" stroke-width="1"/>
<line x1="930.37" y1="712.3" x2="930.37" y2="716.9" stroke="#111" stroke-width="1"/>
<line x1="933.78" y1="712.3" x2="933.78" y2="715.3" stroke="#111" stroke-width="1"/>
<line x1="937.20" y1="712.3" x2="937.20" y2="715.3" stroke="#111" stroke-width="1"/>
<line x1="940.61" y1="712.3" x2="940.61" y2="715.3" stroke="#111" stroke-width="1"/>
<line x1="944.03" y1="712.3" x2="944.03" y2="715.3" stroke="#111" stroke-width="1"/>
<line x1="947.44" y1="712.3" x2="947.44" y2="716.9" stroke="#111" stroke-width="1"/>
<line x1="950.86" y1="712.3" x2="950.86" y2="715.3" stroke="#111" stroke-width="1"/>
<line x1="954.27" y1="712.3" x2="954.27" y2="715.3" stroke="#111" stroke-width="1"/>
<line x1="957.69" y1="712.3" x2="957.69" y2="715.3" stroke="#111" stroke-width="1"/>
<line x1="961.10" y1="712.3" x2="961.10" y2="715.3" stroke="#111" stroke-width="1"/>
<line x1="964.51" y1="712.3" x2="964.51" y2="716.9" stroke="#111" stroke-width="1"/>
<line x1="967.93" y1="712.3" x2="967.93" y2="715.3" stroke="#111" stroke-width="1"/>
<line x1="971.34" y1="712.3" x2="971.34" y2="715.3" stroke="#111" stroke-width="1"/>
<line x1="974.76" y1="712.3" x2="974.76" y2="715.3" stroke="#111" stroke-width="1"/>
<line x1="978.17" y1="712.3" x2="978.17" y2="715.3" stroke="#111" stroke-width="1"/>
<line x1="981.59" y1="712.3" x2="981.59" y2="716.9" stroke="#111" stroke-width="1"/>
<line x1="985.00" y1="712.3" x2="985.00" y2="715.3" stroke="#111" stroke-width="1"/>
<line x1="988.42" y1="712.3" x2="988.42" y2="715.3" stroke="#111" stroke-width="1"/>
<line x1="991.83" y1="712.3" x2="991.83" y2="715.3" stroke="#111" stroke-width="1"/>
<line x1="995.25" y1="712.3" x2="995.25" y2="715.3" stroke="#111" stroke-width="1"/>
<g font-family="Liberation Sans, sans-serif" font-size="17.5" fill="#111" text-anchor="middle">
<text transform="translate(58.4,738.3) scale(1.05,1)">0</text>
<text transform="translate(110.9,738.3) scale(1.05,1)">100</text>
<text transform="translate(179.2,738.3) scale(1.05,1)">200</text>
<text transform="translate(247.5,738.3) scale(1.05,1)">300</text>
<text transform="translate(315.8,738.3) scale(1.05,1)">400</text>
<text transform="translate(384.1,738.3) scale(1.05,1)">500</text>
<text transform="translate(452.3,738.3) scale(1.05,1)">600</text>
<text transform="translate(520.6,738.3) scale(1.05,1)">700</text>
<text transform="translate(588.9,738.3) scale(1.05,1)">800</text>
<text transform="translate(657.2,738.3) scale(1.05,1)">900</text>
<text transform="translate(725.5,738.3) scale(1.05,1)">1000</text>
<text transform="translate(793.8,738.3) scale(1.05,1)">1100</text>
<text transform="translate(862.1,738.3) scale(1.05,1)">1200</text>
<text transform="translate(930.4,738.3) scale(1.05,1)">1300</text>
<text transform="translate(998.7,738.3) scale(1.05,1)">1400</text>
</g>
<g font-family="Liberation Sans, sans-serif" font-size="17.6" fill="#111" text-anchor="end">
<text x="47.8" y="230.2">100</text>
<text x="47.8" y="719.6">0</text>
</g>
<rect x="96.18" y="736.20" width="3.88" height="3.0" fill="#fff"/>
<rect x="102.00" y="736.20" width="4.15" height="3.0" fill="#fff"/>
<rect x="705.69" y="736.20" width="3.87" height="3.0" fill="#fff"/>
<rect x="711.51" y="736.20" width="4.15" height="3.0" fill="#fff"/>
<rect x="773.98" y="736.20" width="3.87" height="3.0" fill="#fff"/>
<rect x="779.80" y="736.20" width="4.15" height="3.0" fill="#fff"/>
<rect x="784.19" y="736.20" width="3.87" height="3.0" fill="#fff"/>
<rect x="790.01" y="736.20" width="4.15" height="3.0" fill="#fff"/>
<rect x="842.27" y="736.20" width="3.87" height="3.0" fill="#fff"/>
<rect x="848.09" y="736.20" width="4.15" height="3.0" fill="#fff"/>
<rect x="910.56" y="736.20" width="3.87" height="3.0" fill="#fff"/>
<rect x="916.38" y="736.20" width="4.15" height="3.0" fill="#fff"/>
<rect x="978.85" y="736.20" width="3.87" height="3.0" fill="#fff"/>
<rect x="984.67" y="736.20" width="4.15" height="3.0" fill="#fff"/>
<rect x="19.55" y="228.10" width="3.19" height="3.0" fill="#fff"/>
<rect x="24.62" y="228.10" width="3.28" height="3.0" fill="#fff"/>
<text transform="translate(520.3,778) scale(1.07,1)" font-family="Liberation Sans, sans-serif" font-size="29" fill="#111" text-anchor="middle">m/z</text>
<text transform="translate(30.2,604) rotate(-90)" font-family="Liberation Sans, sans-serif" font-size="30.6" fill="#111">Relative Intensity %</text>
<line x1="62" y1="194.4" x2="180" y2="194.4" stroke="#222" stroke-width="1.8" stroke-dasharray="3.7 2.5"/>
<line x1="62" y1="190.5" x2="62" y2="198.3" stroke="#222" stroke-width="1.6"/>
<line x1="180" y1="190.5" x2="180" y2="198.3" stroke="#222" stroke-width="1.6"/>
<text x="118" y="188.2" font-family="Liberation Sans, sans-serif" font-size="12" fill="#222" stroke="#222" stroke-width="0.25" text-anchor="middle">10x</text>
<line x1="195.1" y1="194.4" x2="400.7" y2="194.4" stroke="#222" stroke-width="1.8" stroke-dasharray="3.7 2.5"/>
<line x1="195.1" y1="190.5" x2="195.1" y2="198.3" stroke="#222" stroke-width="1.6"/>
<line x1="400.7" y1="190.5" x2="400.7" y2="198.3" stroke="#222" stroke-width="1.6"/>
<text x="300.9" y="188.2" font-family="Liberation Sans, sans-serif" font-size="12" fill="#222" stroke="#222" stroke-width="0.25" text-anchor="middle">25x</text>
<line x1="446.4" y1="194.4" x2="472.4" y2="194.4" stroke="#222" stroke-width="1.8" stroke-dasharray="3.7 2.5"/>
<line x1="446.4" y1="190.5" x2="446.4" y2="198.3" stroke="#222" stroke-width="1.6"/>
<line x1="472.4" y1="190.5" x2="472.4" y2="198.3" stroke="#222" stroke-width="1.6"/>
<text x="459.4" y="188.2" font-family="Liberation Sans, sans-serif" font-size="12" fill="#222" stroke="#222" stroke-width="0.25" text-anchor="middle">2x</text>
<line x1="482.4" y1="194.4" x2="511.3" y2="194.4" stroke="#222" stroke-width="1.8" stroke-dasharray="3.7 2.5"/>
<line x1="482.4" y1="190.5" x2="482.4" y2="198.3" stroke="#222" stroke-width="1.6"/>
<line x1="511.3" y1="190.5" x2="511.3" y2="198.3" stroke="#222" stroke-width="1.6"/>
<text x="497.2" y="188.2" font-family="Liberation Sans, sans-serif" font-size="12" fill="#222" stroke="#222" stroke-width="0.25" text-anchor="middle">35x</text>
<line x1="525.4" y1="194.4" x2="762.9" y2="194.4" stroke="#222" stroke-width="1.8" stroke-dasharray="3.7 2.5"/>
<line x1="525.4" y1="190.5" x2="525.4" y2="198.3" stroke="#222" stroke-width="1.6"/>
<line x1="762.9" y1="190.5" x2="762.9" y2="198.3" stroke="#222" stroke-width="1.6"/>
<text x="644.2" y="188.2" font-family="Liberation Sans, sans-serif" font-size="12" fill="#222" stroke="#222" stroke-width="0.25" text-anchor="middle">35x</text>
<g stroke="#111" stroke-width="1.6" fill="none" stroke-linejoin="round">
<path transform="translate(204.60,89.6)" d="M0.6,-11.8H7.3A3.7,3.7 0 0 1 7.3,-4.4H4 M4,-11.8V0 M0.6,0H7.8"/>
<path transform="translate(218.36,89.6)" d="M0.6,-8.5H5 M8.3,-8.5H12.4 M2.7,-8.5L6.8,0 M10.4,-8.5L4.5,4.7 M1.2,4.7H7.7"/>
<path transform="translate(232.12,89.6)" d="M1.4,-8.5H4.6V0 M1.4,0H10.2 M4.6,-5.2C6,-7.8 8,-8.8 10.2,-8.8C11,-8.8 11.8,-8.6 12.3,-8.2V-6.8"/>
<path transform="translate(259.64,89.6)" d="M0.6,-11.8H8.2 M4.1,-11.8V0 M0.6,0H11.6V-4.2"/>
<path transform="translate(273.40,89.6)" d="M0.6,-8.5H5 M8.3,-8.5H12.4 M2.7,-8.5L6.8,0 M10.4,-8.5L4.5,4.7 M1.2,4.7H7.7"/>
<path transform="translate(287.16,89.6)" d="M10.4,-8.9V-6.6 M10.3,-7.6C9.2,-8.4 8,-8.7 6.4,-8.7C4,-8.7 2.6,-7.8 2.6,-6.4C2.6,-4.9 4,-4.6 6.6,-4.2C9.2,-3.8 10.6,-3.2 10.6,-1.7C10.6,-0.2 8.8,0.2 6.6,0.2C4.6,0.2 3.2,-0.3 2.2,-1.2 M2.2,0.4V-2.3"/>
<path transform="translate(314.68,89.6)" d="M1.9,-7.3V-11.8H11.5V-7.3 M6.7,-11.8V0 M3.2,0H10.2"/>
<path transform="translate(328.44,89.6)" d="M1.4,-8.5H4.6V0 M1.4,0H10.2 M4.6,-5.2C6,-7.8 8,-8.8 10.2,-8.8C11,-8.8 11.8,-8.6 12.3,-8.2V-6.8"/>
<path transform="translate(342.20,89.6)" d="M-0.3,-8.5H2.3V4.7 M0.8,4.7H7 M2.3,-6.5C3.5,-8 5,-8.7 7,-8.7C9.5,-8.7 11.2,-6.8 11.2,-4.3C11.2,-1.7 9.5,0.2 7,0.2C5,0.2 3.5,-0.6 2.3,-2"/>
<path transform="translate(369.72,89.6)" d="M0.6,-11.8H7.3A3.7,3.7 0 0 1 7.3,-4.4H4 M4,-11.8V0 M0.6,0H7.8"/>
<path transform="translate(383.48,89.6)" d="M1.4,-8.5H4.6V0 M1.4,0H10.2 M4.6,-5.2C6,-7.8 8,-8.8 10.2,-8.8C11,-8.8 11.8,-8.6 12.3,-8.2V-6.8"/>
<path transform="translate(397.24,89.6)" d="M2.2,-4.25A4.5,4.25 0 1 0 11.2,-4.25A4.5,4.25 0 1 0 2.2,-4.25Z"/>
<path transform="translate(424.76,89.6)" d="M6.6,-11.8L1.9,0 M6.6,-11.8L11,0 M2.5,-11.8H6.6 M3.8,-5H9.4 M-0.2,0H4.8 M8.9,0H13.3"/>
<path transform="translate(438.52,89.6)" d="M1.4,-8.5H4.6V0 M1.4,0H10.2 M4.6,-5.2C6,-7.8 8,-8.8 10.2,-8.8C11,-8.8 11.8,-8.6 12.3,-8.2V-6.8"/>
<path transform="translate(452.28,89.6)" d="M2.4,-4.7A3.95,3.5 0 1 0 10.3,-4.7A3.95,3.5 0 1 0 2.4,-4.7Z M12.8,-8.5H10.7V1.5C10.7,3.8 9,4.7 7,4.7H3.8"/>
<path transform="translate(479.80,89.6)" d="M0.6,-11.8H7.3A3.7,3.7 0 0 1 7.3,-4.4H4 M4,-11.8V0 M0.6,0H7.8"/>
<path transform="translate(493.56,89.6)" d="M1.4,-8.5H4.6V0 M1.4,0H10.2 M4.6,-5.2C6,-7.8 8,-8.8 10.2,-8.8C11,-8.8 11.8,-8.6 12.3,-8.2V-6.8"/>
<path transform="translate(507.32,89.6)" d="M2.2,-4.25A4.5,4.25 0 1 0 11.2,-4.25A4.5,4.25 0 1 0 2.2,-4.25Z"/>
<path transform="translate(534.84,89.6)" d="M11,-12.3V-9 M11,-10.6C10,-11.6 8.6,-12.2 7,-12.2C3.8,-12.2 1.9,-9.4 1.9,-5.9C1.9,-2.3 4,0.2 7,0.2C8.9,0.2 10.3,-0.4 11.2,-1.2V-4.4 M8.4,-4.4H12.8"/>
<path transform="translate(548.60,89.6)" d="M2.6,-13.1H7V0 M2.6,0H11.8"/>
<path transform="translate(562.36,89.6)" d="M0.6,-8.5H5 M8.3,-8.5H12.4 M2.7,-8.5L6.8,0 M10.4,-8.5L4.5,4.7 M1.2,4.7H7.7"/>
<path transform="translate(589.88,89.6)" d="M0.6,-11.8H7.3A3.7,3.7 0 0 1 7.3,-4.4H4 M4,-11.8V0 M0.6,0H7.8"/>
<path transform="translate(603.64,89.6)" d="M1.4,-8.5H4.6V0 M1.4,0H10.2 M4.6,-5.2C6,-7.8 8,-8.8 10.2,-8.8C11,-8.8 11.8,-8.6 12.3,-8.2V-6.8"/>
<path transform="translate(617.40,89.6)" d="M2.2,-4.25A4.5,4.25 0 1 0 11.2,-4.25A4.5,4.25 0 1 0 2.2,-4.25Z"/>
<path transform="translate(644.92,89.6)" d="M11,-12.3V-9 M11,-10.6C10,-11.6 8.6,-12.2 7,-12.2C3.8,-12.2 1.9,-9.4 1.9,-5.9C1.9,-2.3 4,0.2 7,0.2C8.9,0.2 10.3,-0.4 11.2,-1.2V-4.4 M8.4,-4.4H12.8"/>
<path transform="translate(658.68,89.6)" d="M2.6,-13.1H7V0 M2.6,0H11.8"/>
<path transform="translate(672.44,89.6)" d="M1.2,-8.5H3.6V-2.8C3.6,-0.8 5,0.2 6.8,0.2C8.6,0.2 9.8,-0.6 10.6,-1.8 M8.6,-8.5H10.6V0H12.9"/>
<path transform="translate(699.96,89.6)" d="M2.6,-11.8H11.4 M7,-11.8V0 M2.6,0H11.4"/>
<path transform="translate(713.72,89.6)" d="M2.6,-13.1H7V0 M2.6,0H11.8"/>
<path transform="translate(727.48,89.6)" d="M2.3,-4.4H11.9C11.9,-7 9.8,-8.6 7,-8.6C4.2,-8.6 2.3,-6.6 2.3,-4.2C2.3,-1.6 4.4,0.2 7.2,0.2C9,0.2 10.8,-0.4 12.2,-1.6"/>
<path transform="translate(755.00,89.6)" d="M0.6,-11.8H7.3A3.7,3.7 0 0 1 7.3,-4.4H4 M4,-11.8V0 M0.6,0H7.8"/>
<path transform="translate(768.76,89.6)" d="M1.4,-8.5H4.6V0 M1.4,0H10.2 M4.6,-5.2C6,-7.8 8,-8.8 10.2,-8.8C11,-8.8 11.8,-8.6 12.3,-8.2V-6.8"/>
<path transform="translate(782.52,89.6)" d="M2.2,-4.25A4.5,4.25 0 1 0 11.2,-4.25A4.5,4.25 0 1 0 2.2,-4.25Z"/>
<path transform="translate(810.04,89.6)" d="M0.6,-11.8H7.3A3.7,3.7 0 0 1 7.3,-4.4H4 M4,-11.8V0 M0.6,0H7.8"/>
<path transform="translate(823.80,89.6)" d="M1.4,-8.5H4.6V0 M1.4,0H10.2 M4.6,-5.2C6,-7.8 8,-8.8 10.2,-8.8C11,-8.8 11.8,-8.6 12.3,-8.2V-6.8"/>
<path transform="translate(837.56,89.6)" d="M2.2,-4.25A4.5,4.25 0 1 0 11.2,-4.25A4.5,4.25 0 1 0 2.2,-4.25Z"/>
</g>
<g stroke="#111" stroke-width="2" fill="none">
<line x1="245.9" y1="85.2" x2="259.6" y2="85.2"/>
<path d="M251.6 41 V127.5 H263.1"/>
<line x1="300.9" y1="85.2" x2="314.7" y2="85.2"/>
<path d="M295.3 42 H306.8 V127.5 H318.3"/>
<line x1="356.0" y1="85.2" x2="369.7" y2="85.2"/>
<path d="M350.5 42 H362.0 V127.5 H373.5"/>
<line x1="411.0" y1="85.2" x2="424.8" y2="85.2"/>
<path d="M405.7 42 H417.2 V127.5 H428.7"/>
<line x1="466.0" y1="85.2" x2="479.8" y2="85.2"/>
<path d="M460.9 42 H472.4 V127.5 H483.9"/>
<line x1="521.1" y1="85.2" x2="534.8" y2="85.2"/>
<path d="M516.0 42 H527.5 V127.5 H539.0"/>
<line x1="576.1" y1="85.2" x2="589.9" y2="85.2"/>
<path d="M571.2 42 H582.7 V127.5 H594.2"/>
<line x1="631.2" y1="85.2" x2="644.9" y2="85.2"/>
<path d="M626.4 42 H637.9 V127.5 H649.4"/>
<line x1="686.2" y1="85.2" x2="700.0" y2="85.2"/>
<path d="M681.6 42 H693.1 V127.5 H704.6"/>
<line x1="741.2" y1="85.2" x2="755.0" y2="85.2"/>
<path d="M736.8 42 H748.3 V127.5 H759.8"/>
<line x1="796.3" y1="85.2" x2="810.0" y2="85.2"/>
<path d="M792.0 42 H803.5 V127.5 H815.0"/>
</g>
<g font-family="Liberation Serif, serif" fill="#111" stroke="#111" stroke-width="0.35">
<text transform="translate(267,29.3) scale(1,1.08)" font-size="20.2">b</text>
<text transform="translate(277.8,33.8) scale(1,1.12)" font-size="13.5">2</text>
<text transform="translate(324.5,29.3) scale(1,1.08)" font-size="20.2">b</text>
<text transform="translate(335.3,33.8) scale(1,1.12)" font-size="13.5">3</text>
<text transform="translate(380.2,29.3) scale(1,1.08)" font-size="20.2">b</text>
<text transform="translate(391.0,33.8) scale(1,1.12)" font-size="13.5">4</text>
<text transform="translate(436.4,29.3) scale(1,1.08)" font-size="20.2">b</text>
<text transform="translate(447.2,33.8) scale(1,1.12)" font-size="13.5">5</text>
<text transform="translate(492.1,29.3) scale(1,1.08)" font-size="20.2">b</text>
<text transform="translate(502.90000000000003,33.8) scale(1,1.12)" font-size="13.5">6</text>
<text transform="translate(547.2,29.3) scale(1,1.08)" font-size="20.2">b</text>
<text transform="translate(558.0,33.8) scale(1,1.12)" font-size="13.5">7</text>
<text transform="translate(602.3,29.3) scale(1,1.08)" font-size="20.2">b</text>
<text transform="translate(613.0999999999999,33.8) scale(1,1.12)" font-size="13.5">8</text>
<text transform="translate(658.8,29.3) scale(1,1.08)" font-size="20.2">b</text>
<text transform="translate(669.5999999999999,33.8) scale(1,1.12)" font-size="13.5">9</text>
<text transform="translate(708.3,29.3) scale(1,1.08)" font-size="20.2">b</text>
<text transform="translate(719.0999999999999,33.8) scale(1,1.12)" font-size="13.5">10</text>
<text transform="translate(215.9,149.5) scale(1,1.015)" font-size="19.8">y</text>
<text transform="translate(227.1,155) scale(1,1.14)" font-size="13.5">12</text>
<text transform="translate(270.7,149.5) scale(1,1.015)" font-size="19.8">y</text>
<text transform="translate(281.9,155) scale(1,1.14)" font-size="13.5">11</text>
<text transform="translate(326.1,149.5) scale(1,1.015)" font-size="19.8">y</text>
<text transform="translate(337.3,155) scale(1,1.14)" font-size="13.5">10</text>
<text transform="translate(385.9,149.5) scale(1,1.015)" font-size="19.8">y</text>
<text transform="translate(397.09999999999997,155) scale(1,1.14)" font-size="13.5">9</text>
<text transform="translate(442.3,149.5) scale(1,1.015)" font-size="19.8">y</text>
<text transform="translate(453.5,155) scale(1,1.14)" font-size="13.5">8</text>
<text transform="translate(498.1,149.5) scale(1,1.015)" font-size="19.8">y</text>
<text transform="translate(509.3,155) scale(1,1.14)" font-size="13.5">7</text>
<text transform="translate(550.5,149.5) scale(1,1.015)" font-size="19.8">y</text>
<text transform="translate(561.7,155) scale(1,1.14)" font-size="13.5">6</text>
<text transform="translate(605.7,149.5) scale(1,1.015)" font-size="19.8">y</text>
<text transform="translate(616.9000000000001,155) scale(1,1.14)" font-size="13.5">5</text>
<text transform="translate(661.1,149.5) scale(1,1.015)" font-size="19.8">y</text>
<text transform="translate(672.3000000000001,155) scale(1,1.14)" font-size="13.5">4</text>
<text transform="translate(717.5,149.5) scale(1,1.015)" font-size="19.8">y</text>
<text transform="translate(728.7,155) scale(1,1.14)" font-size="13.5">3</text>
<text transform="translate(774,149.5) scale(1,1.015)" font-size="19.8">y</text>
<text transform="translate(785.2,155) scale(1,1.14)" font-size="13.5">2</text>
<text transform="translate(828.8,149.5) scale(1,1.015)" font-size="19.8">y</text>
<text transform="translate(840.0,155) scale(1,1.14)" font-size="13.5">1</text>
</g>
</svg>
</body></html>
